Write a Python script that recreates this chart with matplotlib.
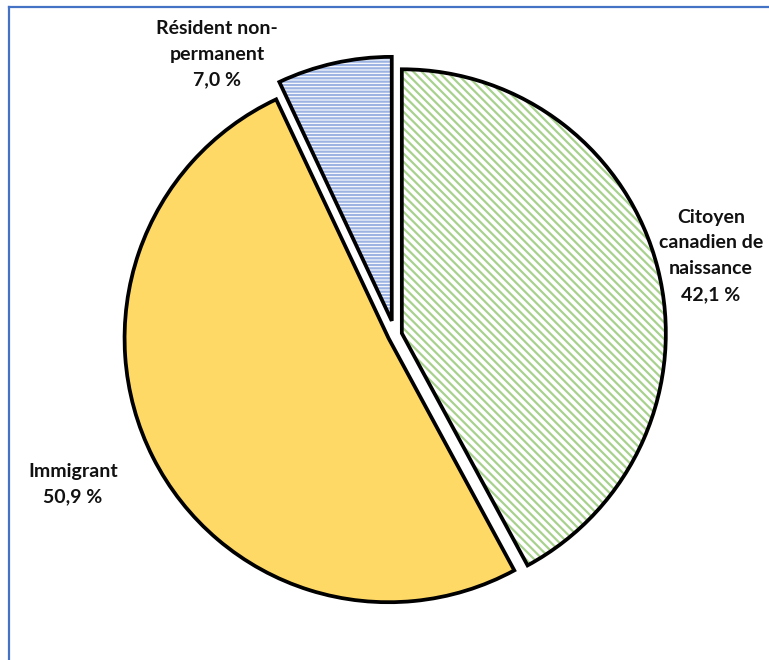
import matplotlib.pyplot as plt
from matplotlib.lines import Line2D

plt.rcParams['font.family'] = ['Lato', 'DejaVu Sans']
plt.rcParams['hatch.linewidth'] = 1.6

# Répartition selon le statut
categories = ["Citoyen\ncanadien de\nnaissance", "Immigrant", "Résident non-\npermanent"]
values = [42.1, 50.9, 7.0]

fill_colors = ['white', '#ffd966', 'white']
hatch_colors = ['#a9d18e', '#ffd966', '#9db3e2']
hatches = ['\\\\\\\\', '', '-----']
explode = [0.027, 0.027, 0.055]

fig = plt.figure(figsize=(7.69, 6.6), dpi=100)
ax = fig.add_axes([0, 0, 1, 1])

# fond hachuré
wedges, _ = ax.pie(values, startangle=90, counterclock=False, explode=explode,
                   colors=fill_colors)
for w, hc, h in zip(wedges, hatch_colors, hatches):
    w.set_edgecolor(hc)
    w.set_hatch(h)
    w.set_linewidth(0)

# contours noirs par-dessus
outline, _ = ax.pie(values, startangle=90, counterclock=False, explode=explode,
                    wedgeprops=dict(facecolor='none', edgecolor='black', linewidth=2.7))

ax.set_aspect('equal')
ax.set_xlim(-1.496, 1.417)
ax.set_ylim(-1.231, 1.269)
ax.axis('off')

label_pos = [(1.197, 0.300), (-1.220, -0.565), (-0.674, 1.063)]
for cat, v, (x, y) in zip(categories, values, label_pos):
    txt = f"{cat}\n{v:.1f} %".replace('.', ',')
    ax.text(x, y, txt, ha='center', va='center', fontsize=14,
            fontweight='bold', linespacing=1.62, color='#111111')

# cadre partiel
fig.add_artist(Line2D([9 / 769, 9 / 769], [0, 1 - 7 / 660], transform=fig.transFigure,
                      color='#4472c4', linewidth=1.6))
fig.add_artist(Line2D([9 / 769, 1], [1 - 7 / 660, 1 - 7 / 660], transform=fig.transFigure,
                      color='#4472c4', linewidth=1.6))

fig.savefig('out.png', dpi=100, facecolor='white')
